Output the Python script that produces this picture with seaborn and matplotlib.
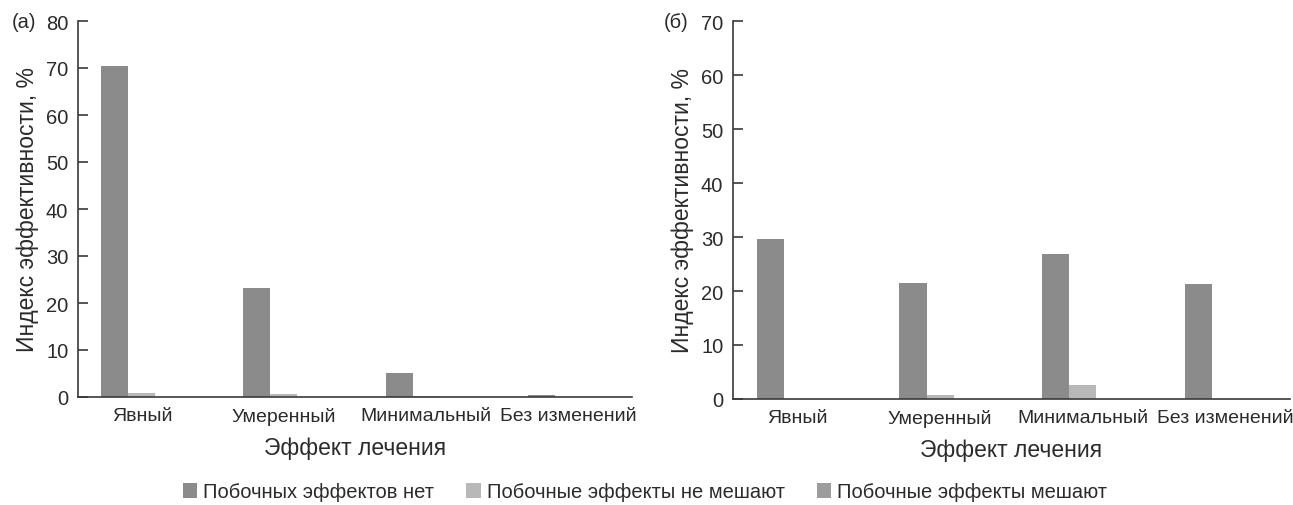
import matplotlib
matplotlib.use("Agg")
import matplotlib.pyplot as plt
import seaborn as sns
import pandas as pd
from matplotlib.patches import Patch

sns.set_theme(style="ticks")
plt.rcParams["font.family"] = ["Liberation Sans", "DejaVu Sans"]

# Data
categories = ["Явный", "Умеренный", "Минимальный", "Без изменений"]
series_names = ["Побочных эффектов нет", "Побочные эффекты не мешают", "Побочные эффекты мешают"]

# panel (а)
a_none = [70.4, 23.1, 5.1, 0.5]
a_ok = [0.9, 0.7, 0.3, 0.1]
a_bad = [0.0, 0.0, 0.0, 0.0]

# panel (б)
b_none = [29.6, 21.5, 26.9, 21.3]
b_ok = [0.0, 0.7, 2.6, 0.0]
b_bad = [0.0, 0.0, 0.0, 0.0]

colors = ["#8b8b8b", "#b8b8b8", "#9d9d9d"]
TEXT = "#2b2b2b"


def long_frame(s1, s2, s3):
    rows = []
    for name, vals in zip(series_names, [s1, s2, s3]):
        for cat, v in zip(categories, vals):
            rows.append({"effect": cat, "series": name, "value": v})
    return pd.DataFrame(rows)


fig = plt.figure(figsize=(12.93, 5.06), dpi=100)
W, H = 1293, 506
ax_a = fig.add_axes([78 / W, (H - 398) / H, (632 - 78) / W, (398 - 22) / H])
ax_b = fig.add_axes([733 / W, (H - 400) / H, (1290 - 733) / W, (400 - 22) / H])

panels = [
    (ax_a, long_frame(a_none, a_ok, a_bad), 80, "(а)"),
    (ax_b, long_frame(b_none, b_ok, b_bad), 70, "(б)"),
]

for ax, df, ymax, tag in panels:
    sns.barplot(data=df, x="effect", y="value", hue="series", order=categories,
                hue_order=series_names, palette=colors, width=0.57, dodge=True,
                saturation=1, edgecolor="none", linewidth=0, legend=False, ax=ax)
    ax.set_ylim(0, ymax)
    ax.set_yticks(range(0, ymax + 1, 10))
    ax.set_xlim(-0.45, 3.45)
    sns.despine(ax=ax)
    for side in ["left", "bottom"]:
        ax.spines[side].set_color("#3a3a3a")
        ax.spines[side].set_linewidth(1.2)
    ax.tick_params(axis="y", direction="in", length=7, width=1.2, pad=7,
                   labelsize=14.5, colors="#3a3a3a")
    ax.tick_params(axis="x", length=0, pad=7, labelsize=14)
    for lab in ax.get_yticklabels() + ax.get_xticklabels():
        lab.set_color(TEXT)
    ax.set_ylabel("Индекс эффективности, %", fontsize=16.5, color=TEXT, labelpad=5)
    ax.set_xlabel("Эффект лечения", fontsize=16.5, color=TEXT, labelpad=8)
    ax.text(-0.075 if tag == "(а)" else -0.08, 1.0, tag, transform=ax.transAxes,
            fontsize=14.5, color=TEXT, ha="right", va="center")

handles = [Patch(facecolor=c, edgecolor="none") for c in colors]
fig.legend(handles, series_names, loc="center", bbox_to_anchor=(645 / W, 1 - 493 / H),
           ncol=3, frameon=False, fontsize=14.5, handlelength=0.7, handleheight=0.7,
           handletextpad=0.3, columnspacing=1.6, labelcolor=TEXT)

fig.savefig("out.png", dpi=100)
